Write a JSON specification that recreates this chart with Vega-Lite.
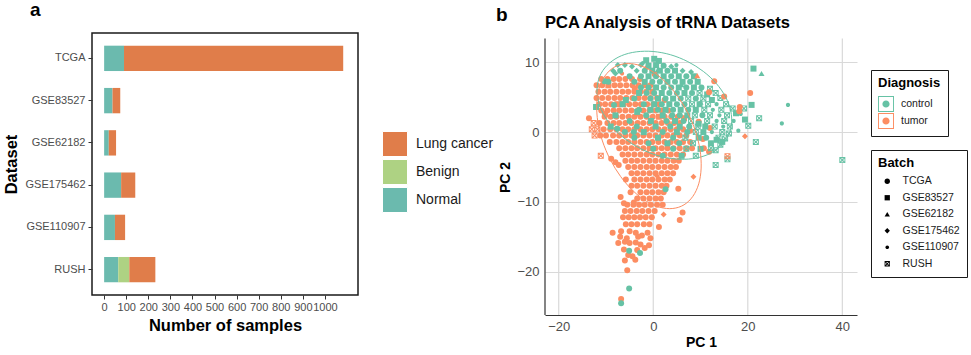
{
"$schema": "https://vega.github.io/schema/vega-lite/v6.json",
"background": "white",
"padding": {"left": 2, "top": 0, "right": 0, "bottom": 0},
"config": {"font": "Liberation Sans", "view": {"stroke": null}},
"bounds": "flush",
"spacing": 187,
"title": {"text": "b", "anchor": "start", "frame": "group", "dx": 404, "dy": 29, "fontSize": 19, "fontWeight": "bold", "color": "#000", "offset": 4},
"resolve": {"scale": {"color": "independent", "shape": "independent", "x": "independent", "y": "independent"}, "legend": {"color": "independent"}},
"hconcat": [
{
"width": 266, "height": 262,
"view": {"stroke": "#1a1a1a", "strokeWidth": 1.5},
"title": {"text": "a", "anchor": "start", "frame": "group", "dx": -62, "fontSize": 19, "fontWeight": "bold", "color": "#000", "offset": 13},
"data": {"values": [
{"Dataset":"TCGA","Group":"Normal","Samples":90,"Seg":1},
{"Dataset":"TCGA","Group":"Lung cancer","Samples":993,"Seg":3},
{"Dataset":"GSE83527","Group":"Normal","Samples":38,"Seg":1},
{"Dataset":"GSE83527","Group":"Lung cancer","Samples":35,"Seg":3},
{"Dataset":"GSE62182","Group":"Normal","Samples":21,"Seg":1},
{"Dataset":"GSE62182","Group":"Lung cancer","Samples":33,"Seg":3},
{"Dataset":"GSE175462","Group":"Normal","Samples":77,"Seg":1},
{"Dataset":"GSE175462","Group":"Lung cancer","Samples":64,"Seg":3},
{"Dataset":"GSE110907","Group":"Normal","Samples":49,"Seg":1},
{"Dataset":"GSE110907","Group":"Lung cancer","Samples":46,"Seg":3},
{"Dataset":"RUSH","Group":"Normal","Samples":64,"Seg":1},
{"Dataset":"RUSH","Group":"Benign","Samples":50,"Seg":2},
{"Dataset":"RUSH","Group":"Lung cancer","Samples":118,"Seg":3}
]},
"mark": {"type": "bar"},
"encoding": {
"y": {"field": "Dataset", "type": "nominal", "sort": ["TCGA","GSE83527","GSE62182","GSE175462","GSE110907","RUSH"],
 "scale": {"paddingInner": 0.4, "paddingOuter": 0.3},
 "axis": {"title": "Dataset", "titleFontSize": 16.5, "titleFontWeight": "bold", "titleColor": "#000", "titlePadding": 6, "labelFontSize": 11, "labelColor": "#4d4d4d", "labelPadding": 3, "tickColor": "#333", "tickSize": 4, "domain": false, "grid": false}},
"x": {"field": "Samples", "type": "quantitative", "stack": "zero",
 "scale": {"domain": [-55, 1150], "nice": false, "zero": false},
 "axis": {"title": "Number of samples", "format": "d", "values": [0,100,200,300,400,500,600,700,800,900,1000], "labelOverlap": false, "labelFlush": false, "titleFontSize": 16.5, "titleFontWeight": "bold", "titleColor": "#000", "titlePadding": 5, "labelFontSize": 11, "labelColor": "#4d4d4d", "labelPadding": 2, "tickColor": "#333", "tickSize": 4, "domain": false, "grid": false}},
"color": {"field": "Group", "type": "nominal",
 "scale": {"domain": ["Lung cancer","Benign","Normal"], "range": ["#E07D4A","#AED283","#6BBAAE"]},
 "legend": {"title": null, "orient": "none", "legendX": 290, "legendY": 98, "symbolType": "square", "symbolSize": 625, "symbolStrokeColor": "white", "symbolStrokeWidth": 1, "symbolOpacity": 1, "labelFontSize": 14, "labelColor": "#1a1a1a", "labelOffset": 8, "rowPadding": -5, "padding": 0}},
"order": {"field": "Seg", "type": "quantitative"}
}
},
{
"width": 312, "height": 282,
"title": {"text": "PCA Analysis of tRNA Datasets", "anchor": "start", "frame": "group", "fontSize": 16.5, "fontWeight": "bold", "color": "#000", "offset": 2},
"layer": [
{
"data": {"values": [{"PC1": -20}, {"PC1": 0}, {"PC1": 20}, {"PC1": 40}]},
"mark": {"type": "rule", "color": "#d9d9d9", "strokeWidth": 1.2},
"encoding": {
"x": {"field": "PC1", "type": "quantitative", "scale": {"domain": [-22.9, 43.1], "nice": false, "zero": false},
 "axis": {"title": "PC 1", "values": [-20, 0, 20, 40], "grid": false, "ticks": false, "tickSize": 0, "domain": true, "domainColor": "#333", "domainWidth": 1.2, "labelFontSize": 13, "labelColor": "#4d4d4d", "labelPadding": 5, "titleFontSize": 14, "titleFontWeight": "bold", "titleColor": "#000", "titlePadding": 2}},
"y": {"datum": -26.2, "type": "quantitative", "scale": {"domain": [-26.2, 14.2], "nice": false, "zero": false},
 "axis": {"title": "PC 2", "values": [-20, -10, 0, 10], "grid": true, "gridColor": "#d9d9d9", "gridWidth": 1.2, "ticks": false, "tickSize": 0, "domain": false, "labelFontSize": 13, "labelColor": "#4d4d4d", "labelPadding": 6, "titleFontSize": 14, "titleFontWeight": "bold", "titleColor": "#000", "titlePadding": 4, "titleY": 144}},
"y2": {"datum": 13.4}
}
},
{
"data": {"values": [
{"PC1":0.3,"PC2":8.3,"Diagnosis":"tumor","Batch":"TCGA"},
{"PC1":-11,"PC2":7.6,"Diagnosis":"tumor","Batch":"TCGA"},
{"PC1":-9.7,"PC2":7.6,"Diagnosis":"tumor","Batch":"TCGA"},
{"PC1":-8.4,"PC2":7.6,"Diagnosis":"tumor","Batch":"TCGA"},
{"PC1":-7.2,"PC2":7.6,"Diagnosis":"tumor","Batch":"TCGA"},
{"PC1":-5.9,"PC2":7.6,"Diagnosis":"tumor","Batch":"TCGA"},
{"PC1":-4.5,"PC2":7.6,"Diagnosis":"tumor","Batch":"TCGA"},
{"PC1":-2.8,"PC2":7.6,"Diagnosis":"tumor","Batch":"TCGA"},
{"PC1":-12,"PC2":6.7,"Diagnosis":"tumor","Batch":"TCGA"},
{"PC1":-10.8,"PC2":6.7,"Diagnosis":"tumor","Batch":"TCGA"},
{"PC1":-9.5,"PC2":6.7,"Diagnosis":"tumor","Batch":"GSE83527"},
{"PC1":-8.2,"PC2":6.7,"Diagnosis":"tumor","Batch":"TCGA"},
{"PC1":-7.0,"PC2":6.7,"Diagnosis":"tumor","Batch":"TCGA"},
{"PC1":-5.7,"PC2":6.7,"Diagnosis":"tumor","Batch":"TCGA"},
{"PC1":-4.4,"PC2":6.7,"Diagnosis":"tumor","Batch":"TCGA"},
{"PC1":-3.1,"PC2":6.7,"Diagnosis":"tumor","Batch":"TCGA"},
{"PC1":-1.8,"PC2":6.7,"Diagnosis":"tumor","Batch":"TCGA"},
{"PC1":-0.6,"PC2":6.7,"Diagnosis":"tumor","Batch":"TCGA"},
{"PC1":-11.6,"PC2":5.8,"Diagnosis":"tumor","Batch":"TCGA"},
{"PC1":-10.3,"PC2":5.8,"Diagnosis":"tumor","Batch":"TCGA"},
{"PC1":-9.1,"PC2":5.8,"Diagnosis":"tumor","Batch":"TCGA"},
{"PC1":-7.8,"PC2":5.8,"Diagnosis":"tumor","Batch":"TCGA"},
{"PC1":-6.5,"PC2":5.8,"Diagnosis":"tumor","Batch":"TCGA"},
{"PC1":-5.3,"PC2":5.8,"Diagnosis":"tumor","Batch":"TCGA"},
{"PC1":-4.0,"PC2":5.8,"Diagnosis":"tumor","Batch":"TCGA"},
{"PC1":-2.7,"PC2":5.8,"Diagnosis":"tumor","Batch":"TCGA"},
{"PC1":-1.5,"PC2":5.8,"Diagnosis":"tumor","Batch":"TCGA"},
{"PC1":-0.2,"PC2":5.8,"Diagnosis":"tumor","Batch":"GSE83527"},
{"PC1":-12,"PC2":4.9,"Diagnosis":"tumor","Batch":"TCGA"},
{"PC1":-10.8,"PC2":4.9,"Diagnosis":"tumor","Batch":"TCGA"},
{"PC1":-9.5,"PC2":4.9,"Diagnosis":"tumor","Batch":"TCGA"},
{"PC1":-8.2,"PC2":4.9,"Diagnosis":"tumor","Batch":"TCGA"},
{"PC1":-7.0,"PC2":4.9,"Diagnosis":"tumor","Batch":"TCGA"},
{"PC1":-5.7,"PC2":4.9,"Diagnosis":"tumor","Batch":"TCGA"},
{"PC1":-4.4,"PC2":4.9,"Diagnosis":"tumor","Batch":"TCGA"},
{"PC1":-3.1,"PC2":4.9,"Diagnosis":"tumor","Batch":"TCGA"},
{"PC1":-1.8,"PC2":4.9,"Diagnosis":"tumor","Batch":"TCGA"},
{"PC1":-0.6,"PC2":4.9,"Diagnosis":"tumor","Batch":"TCGA"},
{"PC1":0.8,"PC2":4.9,"Diagnosis":"tumor","Batch":"TCGA"},
{"PC1":-11.4,"PC2":4.0,"Diagnosis":"tumor","Batch":"TCGA"},
{"PC1":-10.2,"PC2":4.0,"Diagnosis":"tumor","Batch":"TCGA"},
{"PC1":-8.9,"PC2":4.0,"Diagnosis":"tumor","Batch":"TCGA"},
{"PC1":-7.6,"PC2":4.0,"Diagnosis":"tumor","Batch":"GSE83527"},
{"PC1":-6.4,"PC2":4.0,"Diagnosis":"tumor","Batch":"GSE83527"},
{"PC1":-5.1,"PC2":4.0,"Diagnosis":"tumor","Batch":"TCGA"},
{"PC1":-3.8,"PC2":4.0,"Diagnosis":"tumor","Batch":"TCGA"},
{"PC1":-2.6,"PC2":4.0,"Diagnosis":"tumor","Batch":"TCGA"},
{"PC1":-1.3,"PC2":4.0,"Diagnosis":"tumor","Batch":"TCGA"},
{"PC1":0,"PC2":4.0,"Diagnosis":"tumor","Batch":"TCGA"},
{"PC1":1.3,"PC2":4.0,"Diagnosis":"tumor","Batch":"TCGA"},
{"PC1":-11,"PC2":3.1,"Diagnosis":"tumor","Batch":"TCGA"},
{"PC1":-9.7,"PC2":3.1,"Diagnosis":"tumor","Batch":"TCGA"},
{"PC1":-8.4,"PC2":3.1,"Diagnosis":"tumor","Batch":"TCGA"},
{"PC1":-7.2,"PC2":3.1,"Diagnosis":"tumor","Batch":"TCGA"},
{"PC1":-5.9,"PC2":3.1,"Diagnosis":"tumor","Batch":"TCGA"},
{"PC1":-4.6,"PC2":3.1,"Diagnosis":"tumor","Batch":"TCGA"},
{"PC1":-3.3,"PC2":3.1,"Diagnosis":"tumor","Batch":"TCGA"},
{"PC1":-2.1,"PC2":3.1,"Diagnosis":"tumor","Batch":"TCGA"},
{"PC1":-0.8,"PC2":3.1,"Diagnosis":"tumor","Batch":"TCGA"},
{"PC1":0.5,"PC2":3.1,"Diagnosis":"tumor","Batch":"TCGA"},
{"PC1":1.8,"PC2":3.1,"Diagnosis":"tumor","Batch":"TCGA"},
{"PC1":3.2,"PC2":3.1,"Diagnosis":"tumor","Batch":"TCGA"},
{"PC1":-10.3,"PC2":2.2,"Diagnosis":"tumor","Batch":"TCGA"},
{"PC1":-9.0,"PC2":2.2,"Diagnosis":"tumor","Batch":"TCGA"},
{"PC1":-7.8,"PC2":2.2,"Diagnosis":"tumor","Batch":"TCGA"},
{"PC1":-6.5,"PC2":2.2,"Diagnosis":"tumor","Batch":"TCGA"},
{"PC1":-5.2,"PC2":2.2,"Diagnosis":"tumor","Batch":"TCGA"},
{"PC1":-4.0,"PC2":2.2,"Diagnosis":"tumor","Batch":"TCGA"},
{"PC1":-2.7,"PC2":2.2,"Diagnosis":"tumor","Batch":"TCGA"},
{"PC1":-1.4,"PC2":2.2,"Diagnosis":"tumor","Batch":"TCGA"},
{"PC1":-0.1,"PC2":2.2,"Diagnosis":"tumor","Batch":"TCGA"},
{"PC1":1.2,"PC2":2.2,"Diagnosis":"tumor","Batch":"GSE83527"},
{"PC1":2.4,"PC2":2.2,"Diagnosis":"tumor","Batch":"TCGA"},
{"PC1":3.8,"PC2":2.2,"Diagnosis":"tumor","Batch":"TCGA"},
{"PC1":5.2,"PC2":2.2,"Diagnosis":"tumor","Batch":"TCGA"},
{"PC1":-12.6,"PC2":1.3,"Diagnosis":"tumor","Batch":"RUSH"},
{"PC1":-11.4,"PC2":1.3,"Diagnosis":"tumor","Batch":"TCGA"},
{"PC1":-9.7,"PC2":1.3,"Diagnosis":"tumor","Batch":"TCGA"},
{"PC1":-8.4,"PC2":1.3,"Diagnosis":"tumor","Batch":"TCGA"},
{"PC1":-7.2,"PC2":1.3,"Diagnosis":"tumor","Batch":"TCGA"},
{"PC1":-5.9,"PC2":1.3,"Diagnosis":"tumor","Batch":"TCGA"},
{"PC1":-4.6,"PC2":1.3,"Diagnosis":"tumor","Batch":"TCGA"},
{"PC1":-3.3,"PC2":1.3,"Diagnosis":"tumor","Batch":"TCGA"},
{"PC1":-2.1,"PC2":1.3,"Diagnosis":"tumor","Batch":"TCGA"},
{"PC1":-0.8,"PC2":1.3,"Diagnosis":"tumor","Batch":"TCGA"},
{"PC1":0.5,"PC2":1.3,"Diagnosis":"tumor","Batch":"TCGA"},
{"PC1":1.8,"PC2":1.3,"Diagnosis":"tumor","Batch":"TCGA"},
{"PC1":3.1,"PC2":1.3,"Diagnosis":"tumor","Batch":"TCGA"},
{"PC1":4.4,"PC2":1.3,"Diagnosis":"tumor","Batch":"TCGA"},
{"PC1":5.6,"PC2":1.3,"Diagnosis":"tumor","Batch":"TCGA"},
{"PC1":-13,"PC2":0.4,"Diagnosis":"tumor","Batch":"RUSH"},
{"PC1":-11.8,"PC2":0.4,"Diagnosis":"tumor","Batch":"RUSH"},
{"PC1":-10.5,"PC2":0.4,"Diagnosis":"tumor","Batch":"TCGA"},
{"PC1":-9.1,"PC2":0.4,"Diagnosis":"tumor","Batch":"TCGA"},
{"PC1":-7.8,"PC2":0.4,"Diagnosis":"tumor","Batch":"TCGA"},
{"PC1":-6.5,"PC2":0.4,"Diagnosis":"tumor","Batch":"TCGA"},
{"PC1":-5.3,"PC2":0.4,"Diagnosis":"tumor","Batch":"TCGA"},
{"PC1":-4.0,"PC2":0.4,"Diagnosis":"tumor","Batch":"TCGA"},
{"PC1":-2.7,"PC2":0.4,"Diagnosis":"tumor","Batch":"TCGA"},
{"PC1":-1.4,"PC2":0.4,"Diagnosis":"tumor","Batch":"TCGA"},
{"PC1":-0.2,"PC2":0.4,"Diagnosis":"tumor","Batch":"TCGA"},
{"PC1":1.1,"PC2":0.4,"Diagnosis":"tumor","Batch":"TCGA"},
{"PC1":2.4,"PC2":0.4,"Diagnosis":"tumor","Batch":"TCGA"},
{"PC1":3.7,"PC2":0.4,"Diagnosis":"tumor","Batch":"TCGA"},
{"PC1":5.0,"PC2":0.4,"Diagnosis":"tumor","Batch":"TCGA"},
{"PC1":6.3,"PC2":0.4,"Diagnosis":"tumor","Batch":"TCGA"},
{"PC1":-12.4,"PC2":-0.5,"Diagnosis":"tumor","Batch":"RUSH"},
{"PC1":-11.2,"PC2":-0.5,"Diagnosis":"tumor","Batch":"TCGA"},
{"PC1":-10.0,"PC2":-0.5,"Diagnosis":"tumor","Batch":"TCGA"},
{"PC1":-8.5,"PC2":-0.5,"Diagnosis":"tumor","Batch":"TCGA"},
{"PC1":-7.2,"PC2":-0.5,"Diagnosis":"tumor","Batch":"TCGA"},
{"PC1":-5.9,"PC2":-0.5,"Diagnosis":"tumor","Batch":"TCGA"},
{"PC1":-4.6,"PC2":-0.5,"Diagnosis":"tumor","Batch":"TCGA"},
{"PC1":-3.4,"PC2":-0.5,"Diagnosis":"tumor","Batch":"TCGA"},
{"PC1":-2.1,"PC2":-0.5,"Diagnosis":"tumor","Batch":"TCGA"},
{"PC1":-0.8,"PC2":-0.5,"Diagnosis":"tumor","Batch":"TCGA"},
{"PC1":0.5,"PC2":-0.5,"Diagnosis":"tumor","Batch":"TCGA"},
{"PC1":1.8,"PC2":-0.5,"Diagnosis":"tumor","Batch":"TCGA"},
{"PC1":3.0,"PC2":-0.5,"Diagnosis":"tumor","Batch":"TCGA"},
{"PC1":4.3,"PC2":-0.5,"Diagnosis":"tumor","Batch":"TCGA"},
{"PC1":5.6,"PC2":-0.5,"Diagnosis":"tumor","Batch":"TCGA"},
{"PC1":7.0,"PC2":-0.5,"Diagnosis":"tumor","Batch":"TCGA"},
{"PC1":-9.2,"PC2":-1.4,"Diagnosis":"tumor","Batch":"TCGA"},
{"PC1":-7.8,"PC2":-1.4,"Diagnosis":"tumor","Batch":"TCGA"},
{"PC1":-6.5,"PC2":-1.4,"Diagnosis":"tumor","Batch":"TCGA"},
{"PC1":-5.3,"PC2":-1.4,"Diagnosis":"tumor","Batch":"TCGA"},
{"PC1":-4.0,"PC2":-1.4,"Diagnosis":"tumor","Batch":"TCGA"},
{"PC1":-2.7,"PC2":-1.4,"Diagnosis":"tumor","Batch":"TCGA"},
{"PC1":-1.4,"PC2":-1.4,"Diagnosis":"tumor","Batch":"TCGA"},
{"PC1":-0.2,"PC2":-1.4,"Diagnosis":"tumor","Batch":"TCGA"},
{"PC1":1.1,"PC2":-1.4,"Diagnosis":"tumor","Batch":"TCGA"},
{"PC1":2.4,"PC2":-1.4,"Diagnosis":"tumor","Batch":"TCGA"},
{"PC1":3.7,"PC2":-1.4,"Diagnosis":"tumor","Batch":"TCGA"},
{"PC1":5.0,"PC2":-1.4,"Diagnosis":"tumor","Batch":"TCGA"},
{"PC1":6.3,"PC2":-1.4,"Diagnosis":"tumor","Batch":"TCGA"},
{"PC1":7.8,"PC2":-1.4,"Diagnosis":"tumor","Batch":"TCGA"},
{"PC1":-7.2,"PC2":-2.3,"Diagnosis":"tumor","Batch":"TCGA"},
{"PC1":-5.9,"PC2":-2.3,"Diagnosis":"tumor","Batch":"TCGA"},
{"PC1":-4.6,"PC2":-2.3,"Diagnosis":"tumor","Batch":"TCGA"},
{"PC1":-3.4,"PC2":-2.3,"Diagnosis":"tumor","Batch":"TCGA"},
{"PC1":-2.1,"PC2":-2.3,"Diagnosis":"tumor","Batch":"TCGA"},
{"PC1":-0.8,"PC2":-2.3,"Diagnosis":"tumor","Batch":"TCGA"},
{"PC1":0.5,"PC2":-2.3,"Diagnosis":"tumor","Batch":"TCGA"},
{"PC1":1.8,"PC2":-2.3,"Diagnosis":"tumor","Batch":"TCGA"},
{"PC1":3.0,"PC2":-2.3,"Diagnosis":"tumor","Batch":"TCGA"},
{"PC1":4.3,"PC2":-2.3,"Diagnosis":"tumor","Batch":"TCGA"},
{"PC1":5.6,"PC2":-2.3,"Diagnosis":"tumor","Batch":"TCGA"},
{"PC1":7.0,"PC2":-2.3,"Diagnosis":"tumor","Batch":"TCGA"},
{"PC1":8.2,"PC2":-2.3,"Diagnosis":"tumor","Batch":"TCGA"},
{"PC1":-6.5,"PC2":-3.2,"Diagnosis":"tumor","Batch":"TCGA"},
{"PC1":-5.3,"PC2":-3.2,"Diagnosis":"tumor","Batch":"TCGA"},
{"PC1":-4.0,"PC2":-3.2,"Diagnosis":"tumor","Batch":"TCGA"},
{"PC1":-2.7,"PC2":-3.2,"Diagnosis":"tumor","Batch":"TCGA"},
{"PC1":-1.4,"PC2":-3.2,"Diagnosis":"tumor","Batch":"TCGA"},
{"PC1":-0.2,"PC2":-3.2,"Diagnosis":"tumor","Batch":"TCGA"},
{"PC1":1.1,"PC2":-3.2,"Diagnosis":"tumor","Batch":"TCGA"},
{"PC1":2.4,"PC2":-3.2,"Diagnosis":"tumor","Batch":"TCGA"},
{"PC1":3.7,"PC2":-3.2,"Diagnosis":"tumor","Batch":"TCGA"},
{"PC1":5.0,"PC2":-3.2,"Diagnosis":"tumor","Batch":"TCGA"},
{"PC1":6.3,"PC2":-3.2,"Diagnosis":"tumor","Batch":"TCGA"},
{"PC1":-5.9,"PC2":-4.1,"Diagnosis":"tumor","Batch":"TCGA"},
{"PC1":-4.6,"PC2":-4.1,"Diagnosis":"tumor","Batch":"TCGA"},
{"PC1":-3.4,"PC2":-4.1,"Diagnosis":"tumor","Batch":"TCGA"},
{"PC1":-2.1,"PC2":-4.1,"Diagnosis":"tumor","Batch":"TCGA"},
{"PC1":-0.8,"PC2":-4.1,"Diagnosis":"tumor","Batch":"TCGA"},
{"PC1":0.5,"PC2":-4.1,"Diagnosis":"tumor","Batch":"TCGA"},
{"PC1":1.8,"PC2":-4.1,"Diagnosis":"tumor","Batch":"TCGA"},
{"PC1":3.0,"PC2":-4.1,"Diagnosis":"tumor","Batch":"TCGA"},
{"PC1":4.3,"PC2":-4.1,"Diagnosis":"tumor","Batch":"TCGA"},
{"PC1":5.4,"PC2":-4.1,"Diagnosis":"tumor","Batch":"TCGA"},
{"PC1":-5.3,"PC2":-5.0,"Diagnosis":"tumor","Batch":"TCGA"},
{"PC1":-4.0,"PC2":-5.0,"Diagnosis":"tumor","Batch":"TCGA"},
{"PC1":-2.7,"PC2":-5.0,"Diagnosis":"tumor","Batch":"TCGA"},
{"PC1":-1.4,"PC2":-5.0,"Diagnosis":"tumor","Batch":"TCGA"},
{"PC1":-0.2,"PC2":-5.0,"Diagnosis":"tumor","Batch":"TCGA"},
{"PC1":1.1,"PC2":-5.0,"Diagnosis":"tumor","Batch":"TCGA"},
{"PC1":2.4,"PC2":-5.0,"Diagnosis":"tumor","Batch":"TCGA"},
{"PC1":3.7,"PC2":-5.0,"Diagnosis":"tumor","Batch":"TCGA"},
{"PC1":4.8,"PC2":-5.0,"Diagnosis":"tumor","Batch":"TCGA"},
{"PC1":-4.6,"PC2":-5.9,"Diagnosis":"tumor","Batch":"TCGA"},
{"PC1":-3.4,"PC2":-5.9,"Diagnosis":"tumor","Batch":"TCGA"},
{"PC1":-2.1,"PC2":-5.9,"Diagnosis":"tumor","Batch":"TCGA"},
{"PC1":-0.8,"PC2":-5.9,"Diagnosis":"tumor","Batch":"TCGA"},
{"PC1":0.5,"PC2":-5.9,"Diagnosis":"tumor","Batch":"TCGA"},
{"PC1":1.8,"PC2":-5.9,"Diagnosis":"tumor","Batch":"TCGA"},
{"PC1":3.0,"PC2":-5.9,"Diagnosis":"tumor","Batch":"TCGA"},
{"PC1":4.2,"PC2":-5.9,"Diagnosis":"tumor","Batch":"TCGA"},
{"PC1":-5.8,"PC2":-6.8,"Diagnosis":"tumor","Batch":"TCGA"},
{"PC1":-4.0,"PC2":-6.8,"Diagnosis":"tumor","Batch":"TCGA"},
{"PC1":-2.7,"PC2":-6.8,"Diagnosis":"tumor","Batch":"TCGA"},
{"PC1":-1.4,"PC2":-6.8,"Diagnosis":"tumor","Batch":"TCGA"},
{"PC1":-0.2,"PC2":-6.8,"Diagnosis":"tumor","Batch":"TCGA"},
{"PC1":1.1,"PC2":-6.8,"Diagnosis":"tumor","Batch":"TCGA"},
{"PC1":2.4,"PC2":-6.8,"Diagnosis":"tumor","Batch":"TCGA"},
{"PC1":3.5,"PC2":-6.8,"Diagnosis":"tumor","Batch":"TCGA"},
{"PC1":-4.6,"PC2":-7.7,"Diagnosis":"tumor","Batch":"TCGA"},
{"PC1":-3.4,"PC2":-7.7,"Diagnosis":"tumor","Batch":"TCGA"},
{"PC1":-2.1,"PC2":-7.7,"Diagnosis":"tumor","Batch":"TCGA"},
{"PC1":-0.8,"PC2":-7.7,"Diagnosis":"tumor","Batch":"TCGA"},
{"PC1":0.5,"PC2":-7.7,"Diagnosis":"tumor","Batch":"TCGA"},
{"PC1":1.8,"PC2":-7.7,"Diagnosis":"tumor","Batch":"TCGA"},
{"PC1":2.8,"PC2":-7.7,"Diagnosis":"tumor","Batch":"TCGA"},
{"PC1":-4.8,"PC2":-8.6,"Diagnosis":"tumor","Batch":"TCGA"},
{"PC1":-2.7,"PC2":-8.6,"Diagnosis":"tumor","Batch":"TCGA"},
{"PC1":-1.4,"PC2":-8.6,"Diagnosis":"tumor","Batch":"TCGA"},
{"PC1":-0.2,"PC2":-8.6,"Diagnosis":"tumor","Batch":"TCGA"},
{"PC1":1.1,"PC2":-8.6,"Diagnosis":"tumor","Batch":"TCGA"},
{"PC1":2.2,"PC2":-8.6,"Diagnosis":"tumor","Batch":"TCGA"},
{"PC1":-3.4,"PC2":-9.5,"Diagnosis":"tumor","Batch":"TCGA"},
{"PC1":-2.1,"PC2":-9.5,"Diagnosis":"tumor","Batch":"TCGA"},
{"PC1":-0.8,"PC2":-9.5,"Diagnosis":"tumor","Batch":"TCGA"},
{"PC1":0.5,"PC2":-9.5,"Diagnosis":"tumor","Batch":"TCGA"},
{"PC1":1.6,"PC2":-9.5,"Diagnosis":"tumor","Batch":"TCGA"},
{"PC1":-8.9,"PC2":-3.8,"Diagnosis":"tumor","Batch":"TCGA"},
{"PC1":-8.0,"PC2":-4.3,"Diagnosis":"tumor","Batch":"TCGA"},
{"PC1":-7.3,"PC2":-4.7,"Diagnosis":"tumor","Batch":"TCGA"},
{"PC1":-6.9,"PC2":-9.3,"Diagnosis":"tumor","Batch":"TCGA"},
{"PC1":-6.2,"PC2":-10.2,"Diagnosis":"tumor","Batch":"TCGA"},
{"PC1":-4.1,"PC2":-10.1,"Diagnosis":"tumor","Batch":"TCGA"},
{"PC1":-13.6,"PC2":2.0,"Diagnosis":"tumor","Batch":"TCGA"},
{"PC1":-11.1,"PC2":-3.4,"Diagnosis":"tumor","Batch":"RUSH"},
{"PC1":-5.5,"PC2":-10.4,"Diagnosis":"tumor","Batch":"TCGA"},
{"PC1":-4.2,"PC2":-10.4,"Diagnosis":"tumor","Batch":"TCGA"},
{"PC1":-3.0,"PC2":-10.4,"Diagnosis":"tumor","Batch":"TCGA"},
{"PC1":-1.8,"PC2":-10.4,"Diagnosis":"tumor","Batch":"TCGA"},
{"PC1":-0.5,"PC2":-10.4,"Diagnosis":"tumor","Batch":"TCGA"},
{"PC1":0.8,"PC2":-10.4,"Diagnosis":"tumor","Batch":"TCGA"},
{"PC1":2.0,"PC2":-10.4,"Diagnosis":"tumor","Batch":"TCGA"},
{"PC1":-6.0,"PC2":-11.3,"Diagnosis":"tumor","Batch":"TCGA"},
{"PC1":-4.8,"PC2":-11.3,"Diagnosis":"tumor","Batch":"TCGA"},
{"PC1":-3.5,"PC2":-11.3,"Diagnosis":"tumor","Batch":"TCGA"},
{"PC1":-2.3,"PC2":-11.3,"Diagnosis":"tumor","Batch":"TCGA"},
{"PC1":-1.0,"PC2":-11.3,"Diagnosis":"tumor","Batch":"TCGA"},
{"PC1":0.3,"PC2":-11.3,"Diagnosis":"tumor","Batch":"TCGA"},
{"PC1":6.2,"PC2":-11.5,"Diagnosis":"tumor","Batch":"TCGA"},
{"PC1":-6.4,"PC2":-12.2,"Diagnosis":"tumor","Batch":"TCGA"},
{"PC1":-5.2,"PC2":-12.2,"Diagnosis":"tumor","Batch":"TCGA"},
{"PC1":-4.0,"PC2":-12.2,"Diagnosis":"tumor","Batch":"TCGA"},
{"PC1":-2.8,"PC2":-12.2,"Diagnosis":"tumor","Batch":"TCGA"},
{"PC1":-1.6,"PC2":-12.2,"Diagnosis":"tumor","Batch":"TCGA"},
{"PC1":-0.3,"PC2":-12.2,"Diagnosis":"tumor","Batch":"TCGA"},
{"PC1":5.6,"PC2":-12.6,"Diagnosis":"tumor","Batch":"TCGA"},
{"PC1":-5.8,"PC2":-13.2,"Diagnosis":"tumor","Batch":"TCGA"},
{"PC1":-4.6,"PC2":-13.2,"Diagnosis":"tumor","Batch":"TCGA"},
{"PC1":-3.4,"PC2":-13.2,"Diagnosis":"tumor","Batch":"TCGA"},
{"PC1":-2.0,"PC2":-13.2,"Diagnosis":"tumor","Batch":"TCGA"},
{"PC1":-0.8,"PC2":-13.2,"Diagnosis":"tumor","Batch":"TCGA"},
{"PC1":1.2,"PC2":-13.6,"Diagnosis":"tumor","Batch":"TCGA"},
{"PC1":-8.6,"PC2":-14.4,"Diagnosis":"tumor","Batch":"TCGA"},
{"PC1":-6.8,"PC2":-14.2,"Diagnosis":"tumor","Batch":"TCGA"},
{"PC1":-5.0,"PC2":-14.2,"Diagnosis":"tumor","Batch":"TCGA"},
{"PC1":-3.7,"PC2":-14.4,"Diagnosis":"tumor","Batch":"TCGA"},
{"PC1":-2.4,"PC2":-14.8,"Diagnosis":"tumor","Batch":"TCGA"},
{"PC1":-1.2,"PC2":-14.4,"Diagnosis":"tumor","Batch":"TCGA"},
{"PC1":-7.0,"PC2":-15.0,"Diagnosis":"tumor","Batch":"TCGA"},
{"PC1":-5.6,"PC2":-15.2,"Diagnosis":"tumor","Batch":"TCGA"},
{"PC1":-3.2,"PC2":-15.0,"Diagnosis":"tumor","Batch":"TCGA"},
{"PC1":-0.6,"PC2":-15.2,"Diagnosis":"tumor","Batch":"TCGA"},
{"PC1":-7.4,"PC2":-15.9,"Diagnosis":"tumor","Batch":"TCGA"},
{"PC1":-6.0,"PC2":-15.7,"Diagnosis":"tumor","Batch":"TCGA"},
{"PC1":-5.0,"PC2":-15.9,"Diagnosis":"tumor","Batch":"TCGA"},
{"PC1":-3.7,"PC2":-15.8,"Diagnosis":"tumor","Batch":"TCGA"},
{"PC1":-2.7,"PC2":-16.1,"Diagnosis":"tumor","Batch":"TCGA"},
{"PC1":-0.9,"PC2":-16.2,"Diagnosis":"tumor","Batch":"TCGA"},
{"PC1":-6.2,"PC2":-16.8,"Diagnosis":"tumor","Batch":"TCGA"},
{"PC1":-3.4,"PC2":-16.9,"Diagnosis":"tumor","Batch":"TCGA"},
{"PC1":-1.8,"PC2":-16.6,"Diagnosis":"tumor","Batch":"TCGA"},
{"PC1":-5.3,"PC2":-17.6,"Diagnosis":"tumor","Batch":"TCGA"},
{"PC1":-4.4,"PC2":-17.8,"Diagnosis":"tumor","Batch":"TCGA"},
{"PC1":-6.0,"PC2":-18.4,"Diagnosis":"tumor","Batch":"TCGA"},
{"PC1":-3.8,"PC2":-18.3,"Diagnosis":"tumor","Batch":"TCGA"},
{"PC1":-5.5,"PC2":-19.8,"Diagnosis":"tumor","Batch":"TCGA"},
{"PC1":-6.8,"PC2":-23.9,"Diagnosis":"tumor","Batch":"TCGA"},
{"PC1":2.4,"PC2":4.6,"Diagnosis":"tumor","Batch":"TCGA"},
{"PC1":6.5,"PC2":2.0,"Diagnosis":"tumor","Batch":"GSE83527"},
{"PC1":7.8,"PC2":0.2,"Diagnosis":"tumor","Batch":"TCGA"},
{"PC1":9.6,"PC2":1.5,"Diagnosis":"tumor","Batch":"TCGA"},
{"PC1":10.5,"PC2":-1.0,"Diagnosis":"tumor","Batch":"TCGA"},
{"PC1":10.7,"PC2":-2.3,"Diagnosis":"tumor","Batch":"TCGA"},
{"PC1":11.8,"PC2":-2.8,"Diagnosis":"tumor","Batch":"TCGA"},
{"PC1":12.0,"PC2":0.6,"Diagnosis":"tumor","Batch":"TCGA"},
{"PC1":5.3,"PC2":-8.1,"Diagnosis":"tumor","Batch":"TCGA"},
{"PC1":8.5,"PC2":-6.4,"Diagnosis":"tumor","Batch":"GSE175462"},
{"PC1":-7.2,"PC2":-0.5,"Diagnosis":"tumor","Batch":"GSE175462"},
{"PC1":-1.5,"PC2":9.2,"Diagnosis":"tumor","Batch":"GSE175462"},
{"PC1":-6.6,"PC2":8.4,"Diagnosis":"tumor","Batch":"GSE110907"},
{"PC1":-3.4,"PC2":2.6,"Diagnosis":"tumor","Batch":"GSE62182"},
{"PC1":-1.2,"PC2":-2.8,"Diagnosis":"tumor","Batch":"GSE62182"},
{"PC1":0.8,"PC2":-6.3,"Diagnosis":"tumor","Batch":"GSE175462"},
{"PC1":2.2,"PC2":-11.8,"Diagnosis":"tumor","Batch":"GSE175462"},
{"PC1":-10.2,"PC2":2.6,"Diagnosis":"tumor","Batch":"GSE83527"},
{"PC1":-3.9,"PC2":6.2,"Diagnosis":"tumor","Batch":"GSE83527"},
{"PC1":-1.5,"PC2":10.3,"Diagnosis":"control","Batch":"GSE83527"},
{"PC1":0.2,"PC2":10.5,"Diagnosis":"control","Batch":"GSE83527"},
{"PC1":1.2,"PC2":10.2,"Diagnosis":"control","Batch":"GSE83527"},
{"PC1":-7.5,"PC2":9.6,"Diagnosis":"control","Batch":"GSE175462"},
{"PC1":-6.0,"PC2":9.6,"Diagnosis":"control","Batch":"GSE175462"},
{"PC1":-4.5,"PC2":9.4,"Diagnosis":"control","Batch":"GSE175462"},
{"PC1":-2.6,"PC2":9.6,"Diagnosis":"control","Batch":"GSE175462"},
{"PC1":-1.0,"PC2":9.5,"Diagnosis":"control","Batch":"GSE83527"},
{"PC1":0.6,"PC2":9.6,"Diagnosis":"control","Batch":"GSE83527"},
{"PC1":2.2,"PC2":9.5,"Diagnosis":"control","Batch":"TCGA"},
{"PC1":3.8,"PC2":9.4,"Diagnosis":"control","Batch":"GSE175462"},
{"PC1":-8.5,"PC2":8.8,"Diagnosis":"control","Batch":"GSE175462"},
{"PC1":-7.0,"PC2":8.8,"Diagnosis":"control","Batch":"TCGA"},
{"PC1":-3.5,"PC2":8.8,"Diagnosis":"control","Batch":"GSE175462"},
{"PC1":-1.8,"PC2":8.8,"Diagnosis":"control","Batch":"TCGA"},
{"PC1":-0.2,"PC2":8.8,"Diagnosis":"control","Batch":"GSE83527"},
{"PC1":1.4,"PC2":8.8,"Diagnosis":"control","Batch":"GSE83527"},
{"PC1":3.0,"PC2":8.8,"Diagnosis":"control","Batch":"TCGA"},
{"PC1":4.6,"PC2":8.8,"Diagnosis":"control","Batch":"GSE83527"},
{"PC1":6.2,"PC2":8.8,"Diagnosis":"control","Batch":"GSE175462"},
{"PC1":8.0,"PC2":8.6,"Diagnosis":"control","Batch":"GSE175462"},
{"PC1":-5.0,"PC2":8.0,"Diagnosis":"control","Batch":"TCGA"},
{"PC1":-2.6,"PC2":8.0,"Diagnosis":"control","Batch":"TCGA"},
{"PC1":-1.0,"PC2":8.0,"Diagnosis":"control","Batch":"GSE83527"},
{"PC1":0.6,"PC2":8.0,"Diagnosis":"control","Batch":"TCGA"},
{"PC1":2.2,"PC2":8.0,"Diagnosis":"control","Batch":"GSE83527"},
{"PC1":3.8,"PC2":8.0,"Diagnosis":"control","Batch":"TCGA"},
{"PC1":5.4,"PC2":8.0,"Diagnosis":"control","Batch":"GSE83527"},
{"PC1":7.0,"PC2":8.0,"Diagnosis":"control","Batch":"TCGA"},
{"PC1":8.6,"PC2":8.0,"Diagnosis":"control","Batch":"GSE83527"},
{"PC1":-9.5,"PC2":7.2,"Diagnosis":"control","Batch":"TCGA"},
{"PC1":-4.0,"PC2":7.2,"Diagnosis":"control","Batch":"TCGA"},
{"PC1":-1.8,"PC2":7.2,"Diagnosis":"control","Batch":"GSE83527"},
{"PC1":-0.2,"PC2":7.2,"Diagnosis":"control","Batch":"TCGA"},
{"PC1":1.4,"PC2":7.2,"Diagnosis":"control","Batch":"TCGA"},
{"PC1":3.0,"PC2":7.2,"Diagnosis":"control","Batch":"GSE83527"},
{"PC1":4.6,"PC2":7.2,"Diagnosis":"control","Batch":"TCGA"},
{"PC1":6.2,"PC2":7.2,"Diagnosis":"control","Batch":"GSE83527"},
{"PC1":7.8,"PC2":7.2,"Diagnosis":"control","Batch":"TCGA"},
{"PC1":9.4,"PC2":7.2,"Diagnosis":"control","Batch":"GSE83527"},
{"PC1":-2.6,"PC2":6.4,"Diagnosis":"control","Batch":"TCGA"},
{"PC1":-1.0,"PC2":6.4,"Diagnosis":"control","Batch":"TCGA"},
{"PC1":0.6,"PC2":6.4,"Diagnosis":"control","Batch":"GSE83527"},
{"PC1":2.2,"PC2":6.4,"Diagnosis":"control","Batch":"TCGA"},
{"PC1":3.8,"PC2":6.4,"Diagnosis":"control","Batch":"TCGA"},
{"PC1":5.4,"PC2":6.4,"Diagnosis":"control","Batch":"GSE83527"},
{"PC1":7.0,"PC2":6.4,"Diagnosis":"control","Batch":"TCGA"},
{"PC1":8.6,"PC2":6.4,"Diagnosis":"control","Batch":"GSE83527"},
{"PC1":10.2,"PC2":6.4,"Diagnosis":"control","Batch":"TCGA"},
{"PC1":12.0,"PC2":6.2,"Diagnosis":"control","Batch":"RUSH"},
{"PC1":-3.0,"PC2":5.6,"Diagnosis":"control","Batch":"GSE83527"},
{"PC1":-1.4,"PC2":5.6,"Diagnosis":"control","Batch":"TCGA"},
{"PC1":0.2,"PC2":5.6,"Diagnosis":"control","Batch":"TCGA"},
{"PC1":1.8,"PC2":5.6,"Diagnosis":"control","Batch":"GSE83527"},
{"PC1":3.4,"PC2":5.6,"Diagnosis":"control","Batch":"TCGA"},
{"PC1":5.0,"PC2":5.6,"Diagnosis":"control","Batch":"TCGA"},
{"PC1":6.6,"PC2":5.6,"Diagnosis":"control","Batch":"GSE83527"},
{"PC1":8.2,"PC2":5.6,"Diagnosis":"control","Batch":"TCGA"},
{"PC1":9.8,"PC2":5.6,"Diagnosis":"control","Batch":"RUSH"},
{"PC1":11.4,"PC2":5.4,"Diagnosis":"control","Batch":"GSE83527"},
{"PC1":13.2,"PC2":5.6,"Diagnosis":"control","Batch":"RUSH"},
{"PC1":-4.0,"PC2":4.8,"Diagnosis":"control","Batch":"TCGA"},
{"PC1":-0.6,"PC2":4.8,"Diagnosis":"control","Batch":"TCGA"},
{"PC1":1.0,"PC2":4.8,"Diagnosis":"control","Batch":"GSE83527"},
{"PC1":2.6,"PC2":4.8,"Diagnosis":"control","Batch":"TCGA"},
{"PC1":4.2,"PC2":4.8,"Diagnosis":"control","Batch":"GSE83527"},
{"PC1":5.8,"PC2":4.8,"Diagnosis":"control","Batch":"TCGA"},
{"PC1":7.4,"PC2":4.8,"Diagnosis":"control","Batch":"RUSH"},
{"PC1":9.0,"PC2":4.8,"Diagnosis":"control","Batch":"TCGA"},
{"PC1":10.6,"PC2":4.8,"Diagnosis":"control","Batch":"RUSH"},
{"PC1":12.4,"PC2":4.6,"Diagnosis":"control","Batch":"GSE83527"},
{"PC1":14.2,"PC2":4.9,"Diagnosis":"control","Batch":"RUSH"},
{"PC1":-6.5,"PC2":4.0,"Diagnosis":"control","Batch":"GSE83527"},
{"PC1":-2.0,"PC2":4.0,"Diagnosis":"control","Batch":"TCGA"},
{"PC1":0.2,"PC2":4.0,"Diagnosis":"control","Batch":"GSE83527"},
{"PC1":1.8,"PC2":4.0,"Diagnosis":"control","Batch":"TCGA"},
{"PC1":3.4,"PC2":4.0,"Diagnosis":"control","Batch":"GSE83527"},
{"PC1":5.0,"PC2":4.0,"Diagnosis":"control","Batch":"TCGA"},
{"PC1":6.6,"PC2":4.0,"Diagnosis":"control","Batch":"TCGA"},
{"PC1":8.2,"PC2":4.0,"Diagnosis":"control","Batch":"RUSH"},
{"PC1":9.8,"PC2":4.0,"Diagnosis":"control","Batch":"GSE83527"},
{"PC1":11.6,"PC2":4.0,"Diagnosis":"control","Batch":"RUSH"},
{"PC1":13.4,"PC2":4.0,"Diagnosis":"control","Batch":"GSE110907"},
{"PC1":15.4,"PC2":4.0,"Diagnosis":"control","Batch":"RUSH"},
{"PC1":-3.0,"PC2":3.2,"Diagnosis":"control","Batch":"TCGA"},
{"PC1":-0.6,"PC2":3.2,"Diagnosis":"control","Batch":"GSE83527"},
{"PC1":1.0,"PC2":3.2,"Diagnosis":"control","Batch":"TCGA"},
{"PC1":2.6,"PC2":3.2,"Diagnosis":"control","Batch":"GSE83527"},
{"PC1":4.2,"PC2":3.2,"Diagnosis":"control","Batch":"TCGA"},
{"PC1":5.8,"PC2":3.2,"Diagnosis":"control","Batch":"GSE83527"},
{"PC1":7.4,"PC2":3.2,"Diagnosis":"control","Batch":"TCGA"},
{"PC1":9.0,"PC2":3.2,"Diagnosis":"control","Batch":"GSE83527"},
{"PC1":10.8,"PC2":3.2,"Diagnosis":"control","Batch":"RUSH"},
{"PC1":12.6,"PC2":3.2,"Diagnosis":"control","Batch":"GSE110907"},
{"PC1":14.4,"PC2":3.2,"Diagnosis":"control","Batch":"RUSH"},
{"PC1":16.8,"PC2":3.4,"Diagnosis":"control","Batch":"RUSH"},
{"PC1":18.5,"PC2":2.6,"Diagnosis":"control","Batch":"GSE110907"},
{"PC1":-8.0,"PC2":2.4,"Diagnosis":"control","Batch":"GSE83527"},
{"PC1":-1.5,"PC2":2.4,"Diagnosis":"control","Batch":"TCGA"},
{"PC1":2.0,"PC2":2.4,"Diagnosis":"control","Batch":"GSE83527"},
{"PC1":4.0,"PC2":2.4,"Diagnosis":"control","Batch":"TCGA"},
{"PC1":5.6,"PC2":2.4,"Diagnosis":"control","Batch":"TCGA"},
{"PC1":7.2,"PC2":2.4,"Diagnosis":"control","Batch":"GSE83527"},
{"PC1":8.8,"PC2":2.4,"Diagnosis":"control","Batch":"RUSH"},
{"PC1":10.4,"PC2":2.4,"Diagnosis":"control","Batch":"TCGA"},
{"PC1":12.0,"PC2":2.4,"Diagnosis":"control","Batch":"RUSH"},
{"PC1":14.0,"PC2":2.4,"Diagnosis":"control","Batch":"GSE110907"},
{"PC1":15.6,"PC2":2.4,"Diagnosis":"control","Batch":"RUSH"},
{"PC1":17.5,"PC2":2.7,"Diagnosis":"control","Batch":"GSE83527"},
{"PC1":-5.0,"PC2":1.6,"Diagnosis":"control","Batch":"TCGA"},
{"PC1":-0.5,"PC2":1.6,"Diagnosis":"control","Batch":"GSE83527"},
{"PC1":2.8,"PC2":1.6,"Diagnosis":"control","Batch":"TCGA"},
{"PC1":4.6,"PC2":1.6,"Diagnosis":"control","Batch":"GSE83527"},
{"PC1":6.4,"PC2":1.6,"Diagnosis":"control","Batch":"TCGA"},
{"PC1":8.0,"PC2":1.6,"Diagnosis":"control","Batch":"RUSH"},
{"PC1":9.6,"PC2":1.2,"Diagnosis":"control","Batch":"GSE83527"},
{"PC1":11.4,"PC2":1.6,"Diagnosis":"control","Batch":"RUSH"},
{"PC1":13.4,"PC2":1.6,"Diagnosis":"control","Batch":"GSE110907"},
{"PC1":15.0,"PC2":1.6,"Diagnosis":"control","Batch":"RUSH"},
{"PC1":17.0,"PC2":1.6,"Diagnosis":"control","Batch":"GSE110907"},
{"PC1":19.4,"PC2":1.8,"Diagnosis":"control","Batch":"GSE83527"},
{"PC1":-9.0,"PC2":0.8,"Diagnosis":"control","Batch":"GSE83527"},
{"PC1":-3.5,"PC2":0.8,"Diagnosis":"control","Batch":"TCGA"},
{"PC1":0.5,"PC2":0.8,"Diagnosis":"control","Batch":"GSE83527"},
{"PC1":3.6,"PC2":0.8,"Diagnosis":"control","Batch":"TCGA"},
{"PC1":5.6,"PC2":0.8,"Diagnosis":"control","Batch":"GSE83527"},
{"PC1":7.6,"PC2":0.8,"Diagnosis":"control","Batch":"TCGA"},
{"PC1":9.4,"PC2":0.8,"Diagnosis":"control","Batch":"RUSH"},
{"PC1":11.0,"PC2":0.8,"Diagnosis":"control","Batch":"GSE83527"},
{"PC1":13.0,"PC2":0.8,"Diagnosis":"control","Batch":"RUSH"},
{"PC1":14.8,"PC2":0.8,"Diagnosis":"control","Batch":"GSE110907"},
{"PC1":16.2,"PC2":0.8,"Diagnosis":"control","Batch":"RUSH"},
{"PC1":20.1,"PC2":0.9,"Diagnosis":"control","Batch":"RUSH"},
{"PC1":-6.0,"PC2":0.0,"Diagnosis":"control","Batch":"TCGA"},
{"PC1":-2.0,"PC2":0.0,"Diagnosis":"control","Batch":"GSE83527"},
{"PC1":2.0,"PC2":0.0,"Diagnosis":"control","Batch":"TCGA"},
{"PC1":5.0,"PC2":0.0,"Diagnosis":"control","Batch":"GSE83527"},
{"PC1":7.2,"PC2":0.0,"Diagnosis":"control","Batch":"TCGA"},
{"PC1":9.0,"PC2":0.0,"Diagnosis":"control","Batch":"RUSH"},
{"PC1":10.6,"PC2":0.0,"Diagnosis":"control","Batch":"GSE83527"},
{"PC1":12.4,"PC2":0.0,"Diagnosis":"control","Batch":"GSE110907"},
{"PC1":14.6,"PC2":0.0,"Diagnosis":"control","Batch":"RUSH"},
{"PC1":16.0,"PC2":-0.2,"Diagnosis":"control","Batch":"RUSH"},
{"PC1":18.0,"PC2":0.2,"Diagnosis":"control","Batch":"GSE110907"},
{"PC1":-4.0,"PC2":-0.8,"Diagnosis":"control","Batch":"TCGA"},
{"PC1":1.0,"PC2":-0.8,"Diagnosis":"control","Batch":"GSE83527"},
{"PC1":4.2,"PC2":-0.8,"Diagnosis":"control","Batch":"TCGA"},
{"PC1":6.8,"PC2":-0.8,"Diagnosis":"control","Batch":"RUSH"},
{"PC1":9.6,"PC2":-0.8,"Diagnosis":"control","Batch":"GSE83527"},
{"PC1":11.2,"PC2":-0.8,"Diagnosis":"control","Batch":"TCGA"},
{"PC1":13.8,"PC2":-0.8,"Diagnosis":"control","Batch":"RUSH"},
{"PC1":15.2,"PC2":-0.9,"Diagnosis":"control","Batch":"RUSH"},
{"PC1":-1.0,"PC2":-1.6,"Diagnosis":"control","Batch":"TCGA"},
{"PC1":3.0,"PC2":-1.6,"Diagnosis":"control","Batch":"GSE83527"},
{"PC1":5.5,"PC2":-1.6,"Diagnosis":"control","Batch":"TCGA"},
{"PC1":8.4,"PC2":-1.6,"Diagnosis":"control","Batch":"RUSH"},
{"PC1":12.2,"PC2":-1.6,"Diagnosis":"control","Batch":"GSE83527"},
{"PC1":14.2,"PC2":-1.8,"Diagnosis":"control","Batch":"RUSH"},
{"PC1":0.0,"PC2":-2.4,"Diagnosis":"control","Batch":"TCGA"},
{"PC1":4.2,"PC2":-2.4,"Diagnosis":"control","Batch":"TCGA"},
{"PC1":7.0,"PC2":-2.4,"Diagnosis":"control","Batch":"RUSH"},
{"PC1":10.0,"PC2":-2.4,"Diagnosis":"control","Batch":"GSE83527"},
{"PC1":13.2,"PC2":-2.6,"Diagnosis":"control","Batch":"RUSH"},
{"PC1":2.0,"PC2":-3.4,"Diagnosis":"control","Batch":"TCGA"},
{"PC1":6.0,"PC2":-3.4,"Diagnosis":"control","Batch":"GSE83527"},
{"PC1":9.0,"PC2":-3.4,"Diagnosis":"control","Batch":"RUSH"},
{"PC1":13.2,"PC2":-4.7,"Diagnosis":"control","Batch":"RUSH"},
{"PC1":15.7,"PC2":-3.9,"Diagnosis":"control","Batch":"RUSH"},
{"PC1":13.4,"PC2":-1.1,"Diagnosis":"control","Batch":"GSE83527"},
{"PC1":14.6,"PC2":-1.4,"Diagnosis":"control","Batch":"GSE83527"},
{"PC1":12.2,"PC2":-2.3,"Diagnosis":"control","Batch":"RUSH"},
{"PC1":21.2,"PC2":9.1,"Diagnosis":"control","Batch":"GSE83527"},
{"PC1":22.9,"PC2":8.4,"Diagnosis":"control","Batch":"GSE62182"},
{"PC1":28.5,"PC2":3.9,"Diagnosis":"control","Batch":"GSE110907"},
{"PC1":27.2,"PC2":1.25,"Diagnosis":"control","Batch":"GSE110907"},
{"PC1":22.4,"PC2":2.0,"Diagnosis":"control","Batch":"RUSH"},
{"PC1":21.7,"PC2":-1.4,"Diagnosis":"control","Batch":"RUSH"},
{"PC1":40.0,"PC2":-4.0,"Diagnosis":"control","Batch":"RUSH"},
{"PC1":20.8,"PC2":3.9,"Diagnosis":"control","Batch":"GSE83527"},
{"PC1":19.2,"PC2":3.4,"Diagnosis":"control","Batch":"RUSH"},
{"PC1":-12.1,"PC2":3.6,"Diagnosis":"control","Batch":"GSE83527"},
{"PC1":-10.3,"PC2":7.3,"Diagnosis":"control","Batch":"TCGA"},
{"PC1":-8.0,"PC2":8.4,"Diagnosis":"control","Batch":"GSE175462"},
{"PC1":-5.8,"PC2":4.6,"Diagnosis":"control","Batch":"GSE83527"},
{"PC1":-8.3,"PC2":3.9,"Diagnosis":"control","Batch":"TCGA"},
{"PC1":-3.4,"PC2":2.9,"Diagnosis":"control","Batch":"GSE83527"},
{"PC1":-7.6,"PC2":0.5,"Diagnosis":"control","Batch":"TCGA"},
{"PC1":-4.1,"PC2":0.0,"Diagnosis":"control","Batch":"TCGA"},
{"PC1":1.0,"PC2":9.0,"Diagnosis":"control","Batch":"GSE62182"},
{"PC1":6.0,"PC2":6.8,"Diagnosis":"control","Batch":"GSE62182"},
{"PC1":10.0,"PC2":4.3,"Diagnosis":"control","Batch":"GSE62182"},
{"PC1":-2.2,"PC2":9.9,"Diagnosis":"control","Batch":"GSE110907"},
{"PC1":4.9,"PC2":9.6,"Diagnosis":"control","Batch":"GSE110907"},
{"PC1":2.6,"PC2":-8.2,"Diagnosis":"control","Batch":"TCGA"},
{"PC1":-5.1,"PC2":-17.0,"Diagnosis":"control","Batch":"TCGA"},
{"PC1":-2.8,"PC2":-17.3,"Diagnosis":"control","Batch":"TCGA"},
{"PC1":-5.1,"PC2":-22.4,"Diagnosis":"control","Batch":"TCGA"},
{"PC1":-6.8,"PC2":-24.5,"Diagnosis":"control","Batch":"TCGA"},
{"PC1":12.9,"PC2":7.3,"Diagnosis":"tumor","Batch":"TCGA"},
{"PC1":15.0,"PC2":5.1,"Diagnosis":"tumor","Batch":"TCGA"},
{"PC1":11.8,"PC2":5.7,"Diagnosis":"tumor","Batch":"TCGA"},
{"PC1":9.3,"PC2":8.1,"Diagnosis":"tumor","Batch":"GSE62182"},
{"PC1":18.3,"PC2":3.6,"Diagnosis":"tumor","Batch":"TCGA"},
{"PC1":18.2,"PC2":3.0,"Diagnosis":"tumor","Batch":"TCGA"},
{"PC1":20.5,"PC2":5.6,"Diagnosis":"tumor","Batch":"TCGA"},
{"PC1":19.4,"PC2":-0.6,"Diagnosis":"tumor","Batch":"GSE175462"},
{"PC1":15.7,"PC2":-3.45,"Diagnosis":"tumor","Batch":"RUSH"}
]},
"mark": {"type": "point", "filled": true, "size": 36, "opacity": 1},
"encoding": {
"x": {"field": "PC1", "type": "quantitative", "scale": {"domain": [-22.9, 43.1], "nice": false, "zero": false},
 "axis": {"title": "PC 1", "values": [-20, 0, 20, 40], "grid": false, "ticks": false, "tickSize": 0, "domain": true, "domainColor": "#333", "domainWidth": 1.2, "labelFontSize": 13, "labelColor": "#4d4d4d", "labelPadding": 5, "titleFontSize": 14, "titleFontWeight": "bold", "titleColor": "#000", "titlePadding": 2}},
"y": {"field": "PC2", "type": "quantitative", "scale": {"domain": [-26.2, 14.2], "nice": false, "zero": false},
 "axis": {"title": "PC 2", "values": [-20, -10, 0, 10], "grid": true, "gridColor": "#d9d9d9", "gridWidth": 1.2, "ticks": false, "tickSize": 0, "domain": false, "labelFontSize": 13, "labelColor": "#4d4d4d", "labelPadding": 6, "titleFontSize": 14, "titleFontWeight": "bold", "titleColor": "#000", "titlePadding": 4, "titleY": 144}},
"color": {"field": "Diagnosis", "type": "nominal", "scale": {"domain": ["control", "tumor"], "range": ["#66C2A5", "#FC8D62"]},
 "legend": {"title": "Diagnosis", "orient": "none", "legendX": 326, "legendY": 37, "strokeColor": "#1a1a1a", "padding": 7, "titleFontSize": 13, "titleFontWeight": "bold", "titleColor": "#000", "titlePadding": 6, "labelFontSize": 10.5, "labelColor": "#1a1a1a", "labelOffset": 7, "symbolSize": 256, "rowPadding": 1, "symbolOpacity": 1, "symbolStrokeWidth": 0,
 "symbolType": "M-1,-1H1V1H-1Z M-0.88,-0.88V0.88H0.88V-0.88Z M0.45,0A0.45,0.45,0,1,1,-0.45,0A0.45,0.45,0,1,1,0.45,0Z"}},
"shape": {"field": "Batch", "type": "nominal",
 "scale": {"domain": ["TCGA","GSE83527","GSE62182","GSE175462","GSE110907","RUSH"],
  "range": ["circle", "square", "triangle-up", "diamond", "M0.7,0A0.7,0.7,0,1,1,-0.7,0A0.7,0.7,0,1,1,0.7,0Z", "M-1,-1H1V1H-1Z M-0.45,-0.7L0,-0.25L0.45,-0.7Z M0.7,-0.45L0.25,0L0.7,0.45Z M0.45,0.7L0,0.25L-0.45,0.7Z M-0.7,0.45L-0.25,0L-0.7,-0.45Z"]},
 "legend": {"title": "Batch", "orient": "none", "legendX": 326, "legendY": 117, "strokeColor": "#1a1a1a", "padding": 7, "titleFontSize": 13, "titleFontWeight": "bold", "titleColor": "#000", "titlePadding": 6, "labelFontSize": 10.5, "labelColor": "#1a1a1a", "labelOffset": 10, "symbolSize": 28, "symbolFillColor": "#000", "symbolStrokeColor": "#000", "symbolStrokeWidth": 0, "symbolOffset": 4, "rowPadding": 5.5}}
}
},
{
"data": {"values": [
{"Diagnosis":"control","Step":0,"PC1":16.40,"PC2":3.02},
{"Diagnosis":"control","Step":1,"PC1":16.54,"PC2":1.06},
{"Diagnosis":"control","Step":2,"PC1":15.72,"PC2":-0.72},
{"Diagnosis":"control","Step":3,"PC1":13.97,"PC2":-2.18},
{"Diagnosis":"control","Step":4,"PC1":11.45,"PC2":-3.24},
{"Diagnosis":"control","Step":5,"PC1":8.30,"PC2":-3.80},
{"Diagnosis":"control","Step":6,"PC1":4.74,"PC2":-3.85},
{"Diagnosis":"control","Step":7,"PC1":1.02,"PC2":-3.38},
{"Diagnosis":"control","Step":8,"PC1":-2.61,"PC2":-2.40},
{"Diagnosis":"control","Step":9,"PC1":-5.89,"PC2":-1.00},
{"Diagnosis":"control","Step":10,"PC1":-8.62,"PC2":0.72},
{"Diagnosis":"control","Step":11,"PC1":-10.60,"PC2":2.66},
{"Diagnosis":"control","Step":12,"PC1":-11.70,"PC2":4.68},
{"Diagnosis":"control","Step":13,"PC1":-11.84,"PC2":6.64},
{"Diagnosis":"control","Step":14,"PC1":-11.02,"PC2":8.42},
{"Diagnosis":"control","Step":15,"PC1":-9.27,"PC2":9.88},
{"Diagnosis":"control","Step":16,"PC1":-6.75,"PC2":10.94},
{"Diagnosis":"control","Step":17,"PC1":-3.60,"PC2":11.50},
{"Diagnosis":"control","Step":18,"PC1":-0.04,"PC2":11.55},
{"Diagnosis":"control","Step":19,"PC1":3.68,"PC2":11.08},
{"Diagnosis":"control","Step":20,"PC1":7.31,"PC2":10.10},
{"Diagnosis":"control","Step":21,"PC1":10.59,"PC2":8.70},
{"Diagnosis":"control","Step":22,"PC1":13.32,"PC2":6.98},
{"Diagnosis":"control","Step":23,"PC1":15.30,"PC2":5.04},
{"Diagnosis":"tumor","Step":0,"PC1":9.90,"PC2":-2.58},
{"Diagnosis":"tumor","Step":1,"PC1":10.13,"PC2":-5.15},
{"Diagnosis":"tumor","Step":2,"PC1":9.62,"PC2":-7.41},
{"Diagnosis":"tumor","Step":3,"PC1":8.38,"PC2":-9.20},
{"Diagnosis":"tumor","Step":4,"PC1":6.52,"PC2":-10.41},
{"Diagnosis":"tumor","Step":5,"PC1":4.14,"PC2":-10.94},
{"Diagnosis":"tumor","Step":6,"PC1":1.42,"PC2":-10.77},
{"Diagnosis":"tumor","Step":7,"PC1":-1.46,"PC2":-9.90},
{"Diagnosis":"tumor","Step":8,"PC1":-4.30,"PC2":-8.39},
{"Diagnosis":"tumor","Step":9,"PC1":-6.90,"PC2":-6.36},
{"Diagnosis":"tumor","Step":10,"PC1":-9.10,"PC2":-3.93},
{"Diagnosis":"tumor","Step":11,"PC1":-10.75,"PC2":-1.27},
{"Diagnosis":"tumor","Step":12,"PC1":-11.72,"PC2":1.44},
{"Diagnosis":"tumor","Step":13,"PC1":-11.95,"PC2":4.01},
{"Diagnosis":"tumor","Step":14,"PC1":-11.44,"PC2":6.27},
{"Diagnosis":"tumor","Step":15,"PC1":-10.20,"PC2":8.06},
{"Diagnosis":"tumor","Step":16,"PC1":-8.34,"PC2":9.27},
{"Diagnosis":"tumor","Step":17,"PC1":-5.96,"PC2":9.80},
{"Diagnosis":"tumor","Step":18,"PC1":-3.24,"PC2":9.63},
{"Diagnosis":"tumor","Step":19,"PC1":-0.36,"PC2":8.76},
{"Diagnosis":"tumor","Step":20,"PC1":2.48,"PC2":7.25},
{"Diagnosis":"tumor","Step":21,"PC1":5.08,"PC2":5.22},
{"Diagnosis":"tumor","Step":22,"PC1":7.28,"PC2":2.79},
{"Diagnosis":"tumor","Step":23,"PC1":8.93,"PC2":0.13}
]},
"mark": {"type": "line", "strokeWidth": 1, "interpolate": "cardinal-closed"},
"encoding": {
"x": {"field": "PC1", "type": "quantitative", "scale": {"domain": [-22.9, 43.1], "nice": false, "zero": false},
 "axis": {"title": "PC 1", "values": [-20, 0, 20, 40], "grid": false, "ticks": false, "tickSize": 0, "domain": true, "domainColor": "#333", "domainWidth": 1.2, "labelFontSize": 13, "labelColor": "#4d4d4d", "labelPadding": 5, "titleFontSize": 14, "titleFontWeight": "bold", "titleColor": "#000", "titlePadding": 2}},
"y": {"field": "PC2", "type": "quantitative", "scale": {"domain": [-26.2, 14.2], "nice": false, "zero": false},
 "axis": {"title": "PC 2", "values": [-20, -10, 0, 10], "grid": true, "gridColor": "#d9d9d9", "gridWidth": 1.2, "ticks": false, "tickSize": 0, "domain": false, "labelFontSize": 13, "labelColor": "#4d4d4d", "labelPadding": 6, "titleFontSize": 14, "titleFontWeight": "bold", "titleColor": "#000", "titlePadding": 4, "titleY": 144}},
"stroke": {"field": "Diagnosis", "type": "nominal", "scale": {"domain": ["control", "tumor"], "range": ["#66C2A5", "#FC8D62"]}, "legend": null},
"order": {"field": "Step", "type": "quantitative"}
}
},
{
"data": {"values": [{"PC1": -22.9}]},
"mark": {"type": "rule", "color": "#333", "strokeWidth": 1.2},
"encoding": {
"x": {"field": "PC1", "type": "quantitative", "scale": {"domain": [-22.9, 43.1], "nice": false, "zero": false},
 "axis": {"title": "PC 1", "values": [-20, 0, 20, 40], "grid": false, "ticks": false, "tickSize": 0, "domain": true, "domainColor": "#333", "domainWidth": 1.2, "labelFontSize": 13, "labelColor": "#4d4d4d", "labelPadding": 5, "titleFontSize": 14, "titleFontWeight": "bold", "titleColor": "#000", "titlePadding": 2}},
"y": {"datum": -26.2, "type": "quantitative", "scale": {"domain": [-26.2, 14.2], "nice": false, "zero": false},
 "axis": {"title": "PC 2", "values": [-20, -10, 0, 10], "grid": true, "gridColor": "#d9d9d9", "gridWidth": 1.2, "ticks": false, "tickSize": 0, "domain": false, "labelFontSize": 13, "labelColor": "#4d4d4d", "labelPadding": 6, "titleFontSize": 14, "titleFontWeight": "bold", "titleColor": "#000", "titlePadding": 4, "titleY": 144}},
"y2": {"datum": 13.4}
}
}
]
}
]
}
